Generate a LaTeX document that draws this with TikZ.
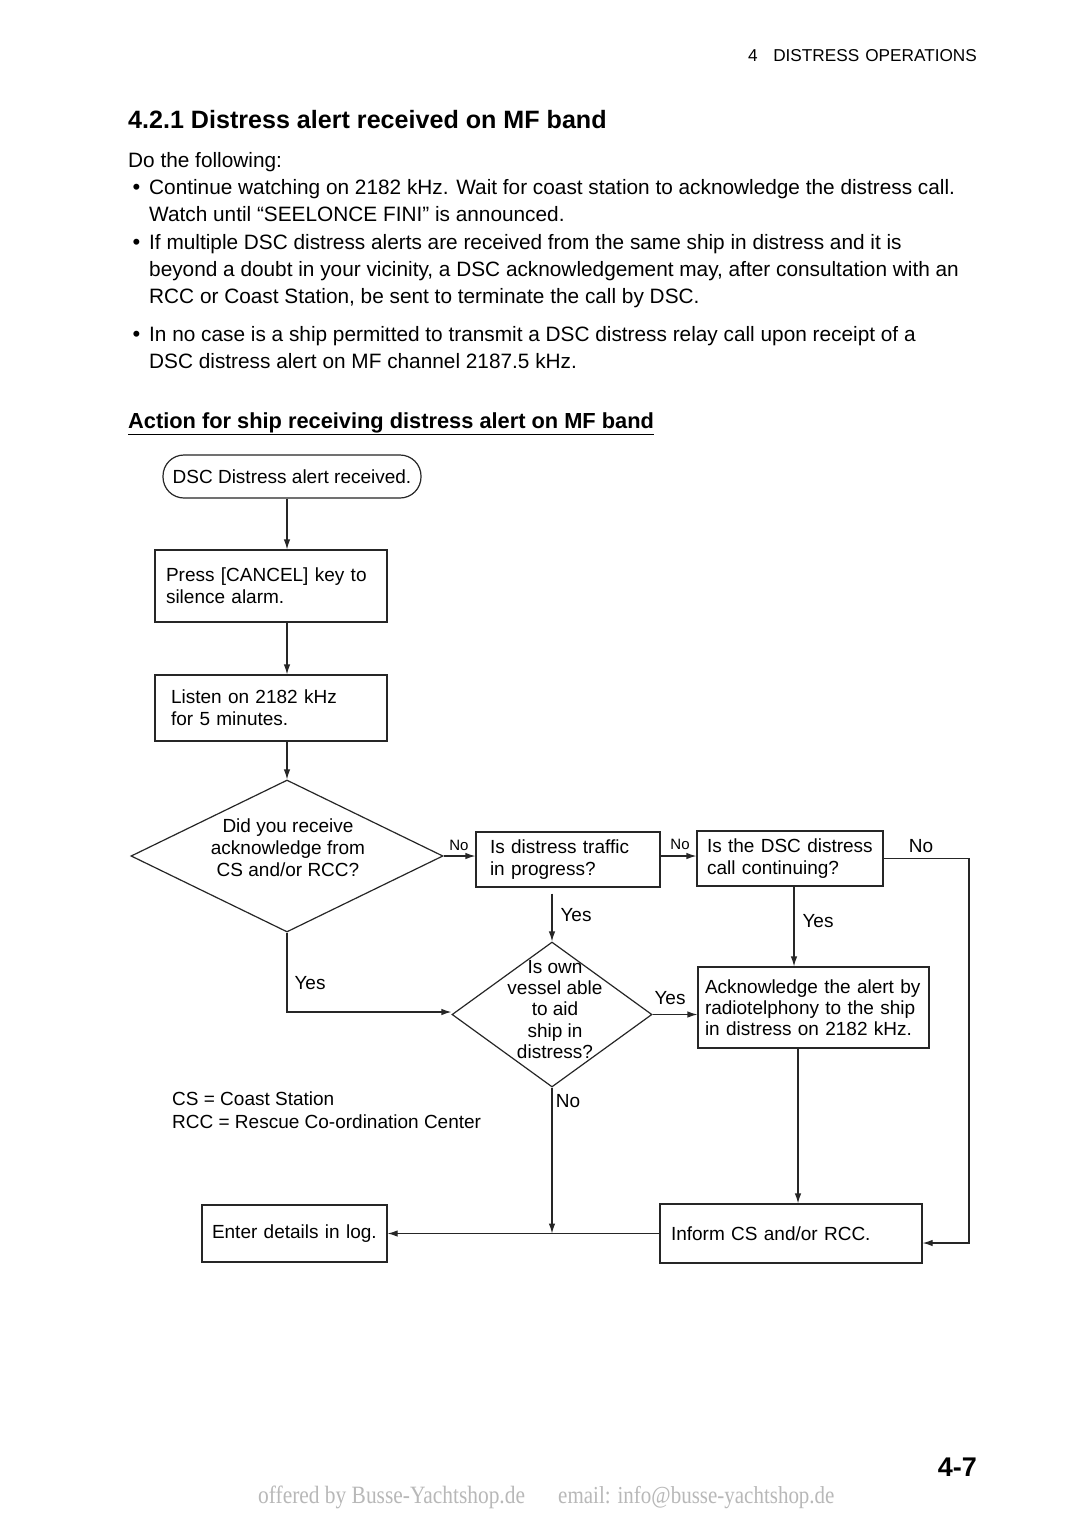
\documentclass[tikz,border=0pt]{standalone}
\usepackage{fontspec}
\setmainfont{Liberation Sans}
\newfontfamily\webfont[FakeStretch=0.86]{Liberation Serif}
\usetikzlibrary{shapes.geometric,arrows.meta,positioning}

\newcommand{\bodyfont}{\fontsize{20.8}{27}\selectfont}
\newcommand{\chartfont}{\fontsize{19}{22}\selectfont}
\newcommand{\tagfont}{\fontsize{15}{18}\selectfont}

\tikzset{
	txt/.style={anchor=base west, inner sep=0pt, font=\bodyfont},
	box/.style={draw=black!85, line width=1.2pt, align=left, font=\chartfont, inner ysep=0pt},
	decision/.style={draw=black!85, line width=1.2pt, diamond, inner sep=0pt},
	arr/.style={draw=black!85, line width=1.2pt, -{Latex[length=10pt,width=6.5pt]}},
	lbl/.style={inner sep=0pt, font=\chartfont},
}

\begin{document}
\begin{tikzpicture}[x=1pt, y=-1pt]
	\fill[white] (0,0) rectangle (1080,1528);
	\useasboundingbox (0,0) rectangle (1080,1528);

	% page text
	\node[anchor=base east, inner sep=0pt, font=\fontsize{17.2}{20}\selectfont] (chapter) at (977,62) {4\hspace{0.9em}DISTRESS\hspace{0.35em}OPERATIONS};
	\node[txt, font=\fontsize{25.1}{28}\selectfont\bfseries] (title) at (128,128) {4.2.1 Distress alert received on MF band};
	\node[txt] (intro) at (128,167) {Do the following:};
	\node[txt, font=\fontsize{22}{27}\selectfont] (dot1) at (132.5,194) {•};
	\node[txt] (p1a) at (149,194) {Continue watching on 2182 kHz. Wait for coast station to acknowledge the distress call.};
	\node[txt] (p1b) at (149,221) {Watch until “SEELONCE FINI” is announced.};
	\node[txt, font=\fontsize{22}{27}\selectfont] (dot2) at (132.5,249) {•};
	\node[txt] (p2a) at (149,249) {If multiple DSC distress alerts are received from the same ship in distress and it is};
	\node[txt] (p2b) at (149,276) {beyond a doubt in your vicinity, a DSC acknowledgement may, after consultation with an};
	\node[txt] (p2c) at (149,303) {RCC or Coast Station, be sent to terminate the call by DSC.};
	\node[txt, font=\fontsize{22}{27}\selectfont] (dot3) at (132.5,341) {•};
	\node[txt] (p3a) at (149,341) {In no case is a ship permitted to transmit a DSC distress relay call upon receipt of a};
	\node[txt] (p3b) at (149,368) {DSC distress alert on MF channel 2187.5 kHz.};
	\node[txt, font=\fontsize{21.8}{27}\selectfont\bfseries] (action) at (128,428) {\underline{Action for ship receiving distress alert on MF band}};

	% flow chart
	\node[draw=black!85, line width=1.2pt, rounded corners=21pt, minimum width=258pt, minimum height=43pt, font=\chartfont, inner sep=0pt] (start) at (292,476.5) {DSC Distress alert received.};
	\node[box, minimum width=232pt, minimum height=72pt, inner xsep=11pt, text width=210pt] (cancel) at (271,586) {Press [CANCEL] key to\\silence alarm.};
	\node[box, minimum width=232pt, minimum height=66pt, inner xsep=16pt, text width=200pt] (listen) at (271,708) {Listen on 2182 kHz\\for 5 minutes.};
	\node[decision, minimum width=312pt, minimum height=152pt] (ack) at (287,856) {};
	\node[lbl, align=center] (ackText) at (288,848) {Did you receive\\acknowledge from\\CS and/or RCC?};
	\node[box, minimum width=184pt, minimum height=55pt, inner xsep=14pt, text width=156pt] (traffic) at (568,859.5) {Is distress traffic\\in progress?};
	\node[box, minimum width=186pt, minimum height=55pt, inner xsep=10pt, text width=166pt] (continuing) at (790,858.5) {Is the DSC distress\\call continuing?};
	\node[decision, minimum width=200pt, minimum height=145pt] (own) at (552,1014.5) {};
	\node[lbl, align=center, font=\fontsize{19}{21.2}\selectfont] (ownText) at (555,1009.5) {Is own\\vessel able\\to aid\\ship in\\distress?};
	\node[box, minimum width=231pt, minimum height=81pt, inner xsep=7pt, text width=217pt, font=\fontsize{19}{21}\selectfont] (reply) at (813.5,1007.5) {Acknowledge the alert by\\radiotelphony to the ship\\in distress on 2182 kHz.};
	\node[box, minimum width=262pt, minimum height=59pt, inner xsep=11pt, text width=240pt] (inform) at (791,1233.5) {Inform CS and/or RCC.};
	\node[box, minimum width=185pt, minimum height=57pt, inner xsep=10pt, text width=165pt] (log) at (294.5,1233.5) {Enter details in log.};

	\coordinate (rail) at (969,1243);
	\coordinate (join) at (own.south |- inform.west);

	\draw[arr] (start.south -| ack.north) -- (cancel.north -| ack.north);
	\draw[arr] (cancel.south -| ack.north) -- (listen.north -| ack.north);
	\draw[arr] (listen.south -| ack.north) -- (ack.north);
	\draw[arr] (ack.east) -- (ack.east -| traffic.west);
	\draw[arr] (traffic.east |- ack.east) -- (continuing.west |- ack.east);
	\draw[arr] (continuing.east) -| (rail) -- (rail -| inform.east);
	\draw[arr] ([yshift=-6pt]own.north |- traffic.south) -- (own.north);
	\draw[arr] (ack.south) |- ([yshift=2.5pt]own.west);
	\draw[arr] (own.east) -- (own.east -| reply.west);
	\draw[arr] ([xshift=4pt]continuing.south) -- ([xshift=4pt]continuing.south |- reply.north);
	\draw[arr] ([xshift=-15.5pt]reply.south) -- ([xshift=-15.5pt]reply.south |- inform.north);
	\draw[arr] (inform.west) -- (log.east);
	\draw[arr] (own.south) -- (join);

	% branch labels
	\node[lbl, font=\tagfont] (no1) at (459,845) {No};
	\node[lbl, font=\tagfont] (no2) at (680,844) {No};
	\node[lbl] (no3) at (921,846) {No};
	\node[lbl] (yes1) at (576,915) {Yes};
	\node[lbl] (yes2) at (818,921) {Yes};
	\node[lbl] (yes3) at (310,983) {Yes};
	\node[lbl] (yes4) at (670,998) {Yes};
	\node[lbl] (no4) at (568,1101) {No};

	% legend
	\node[txt, font=\chartfont] (legCS) at (172,1105) {CS = Coast Station};
	\node[txt, font=\chartfont] (legRCC) at (172,1128) {RCC = Rescue Co-ordination Center};

	% footer
	\node[anchor=base east, inner sep=0pt, font=\fontsize{27}{30}\selectfont\bfseries] (page) at (977,1476) {4-7};
	\node[txt, font=\fontsize{24.9}{26}\webfont, text=black!28] (offer) at (258,1503) {offered by Busse-Yachtshop.de};
	\node[txt, font=\fontsize{24.4}{26}\webfont, text=black!28] (mail) at (558,1503) {email: info@busse-yachtshop.de};
\end{tikzpicture}
\end{document}
